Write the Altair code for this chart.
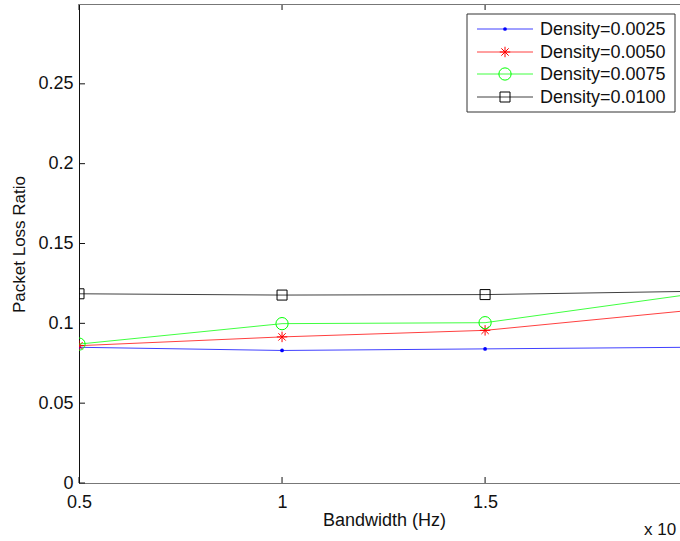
import altair as alt
import pandas as pd

# ---- data ----
bandwidth = [0.5, 1.0, 1.5, 2.0]
series_names = ["Density=0.0025", "Density=0.0050", "Density=0.0075", "Density=0.0100"]
d0025 = [0.085, 0.083, 0.084, 0.085]
d0050 = [0.086, 0.0915, 0.0956, 0.108]
d0075 = [0.087, 0.0998, 0.1004, 0.118]
d0100 = [0.1185, 0.1177, 0.118, 0.120]
values = [d0025, d0050, d0075, d0100]

x_ticks = [0.5, 1.0, 1.5]
y_ticks = [0, 0.05, 0.1, 0.15, 0.2, 0.25]

# ---- styles ----
colors = ["#0000ff", "#ff0000", "#00ff00", "#000000"]
ASTERISK = "M-1,0L1,0M0,-1L0,1M-0.7,-0.7L0.7,0.7M-0.7,0.7L0.7,-0.7"
shapes = ["circle", ASTERISK, "circle", "square"]
sizes = [14, 110, 150, 100]
filled = [True, False, False, False]
FONT = "Liberation Sans"

W, H = 601, 479

rows = []
for name, vals in zip(series_names, values):
    for b, v in zip(bandwidth, vals):
        rows.append({"series": name, "bw": b, "plr": v})
df = pd.DataFrame(rows)

xscale = alt.Scale(domain=[0.5, 1.98], nice=False, zero=False)
yscale = alt.Scale(domain=[0, 0.3], nice=False)

layers = []
base = alt.Chart(df).mark_line(clip=True, strokeWidth=1, opacity=0).encode(
    x=alt.X("bw:Q", scale=xscale,
            axis=alt.Axis(values=x_ticks, format="~g", title="Bandwidth (Hz)",
                          grid=False, tickSize=0, labelPadding=10,
                          domainColor="#777777", labelFontSize=18, labelFont=FONT,
                          labelColor="#111111", titleFont=FONT, titleFontSize=18,
                          titleFontWeight="normal", titleColor="#111111",
                          titleX=305, titleY=28, labelFlush=False)),
    y=alt.Y("plr:Q", scale=yscale,
            axis=alt.Axis(values=y_ticks, format="~g", title="Packet Loss Ratio",
                          grid=False, tickSize=0, labelPadding=6,
                          domainColor="#111111", labelFontSize=18, labelFont=FONT,
                          labelColor="#111111", titleFont=FONT, titleFontSize=17,
                          titleFontWeight="normal", titleColor="#111111",
                          titleX=-60, titleY=240, titleBaseline="middle",
                          titleAlign="center")),
    detail="series:N",
)
layers.append(base)

for i, name in enumerate(series_names):
    sub = df[df["series"] == name]
    layers.append(
        alt.Chart(sub).mark_line(clip=True, strokeWidth=1, color=colors[i], opacity=0.75)
        .encode(x=alt.X("bw:Q", scale=xscale), y=alt.Y("plr:Q", scale=yscale))
    )
    layers.append(
        alt.Chart(sub).mark_point(clip=True, shape=shapes[i], size=sizes[i],
                                  color=colors[i], filled=filled[i], strokeWidth=1,
                                  opacity=1)
        .encode(x=alt.X("bw:Q", scale=xscale), y=alt.Y("plr:Q", scale=yscale))
    )

# inward ticks
ytick_df = pd.DataFrame({"v": y_ticks})
xtick_df = pd.DataFrame({"v": x_ticks})
layers.append(alt.Chart(ytick_df).mark_rule(color="#111111", strokeWidth=1).encode(
    y=alt.Y("v:Q", scale=yscale), x=alt.value(0), x2=alt.value(6)))
layers.append(alt.Chart(xtick_df).mark_rule(color="#111111", strokeWidth=1).encode(
    x=alt.X("v:Q", scale=xscale), y=alt.value(H), y2=alt.value(H - 6)))
layers.append(alt.Chart(xtick_df).mark_rule(color="#111111", strokeWidth=1).encode(
    x=alt.X("v:Q", scale=xscale), y=alt.value(0), y2=alt.value(6)))
# top frame line
layers.append(alt.Chart(pd.DataFrame({"a": [0]})).mark_rule(color="#777777", strokeWidth=1).encode(
    x=alt.value(0), x2=alt.value(W), y=alt.value(0.5)))

# manual legend
LX0, LX1, LY0, LY1 = 388, 596, 10, 108
one = pd.DataFrame({"a": [0]})
layers.append(alt.Chart(one).mark_rect(fill="white", stroke="#333333", strokeWidth=1).encode(
    x=alt.value(LX0), x2=alt.value(LX1), y=alt.value(LY0), y2=alt.value(LY1)))
entry_y = [25, 48, 70, 93]
for i, name in enumerate(series_names):
    ey = entry_y[i]
    layers.append(alt.Chart(one).mark_rule(color=colors[i], strokeWidth=1, opacity=0.75).encode(
        x=alt.value(398), x2=alt.value(454), y=alt.value(ey)))
    layers.append(alt.Chart(one).mark_point(shape=shapes[i], size=sizes[i], color=colors[i],
                                            filled=filled[i], strokeWidth=1, opacity=1).encode(
        x=alt.value(426), y=alt.value(ey)))
    layers.append(alt.Chart(pd.DataFrame({"label": [name]})).mark_text(
        align="left", baseline="middle", font=FONT, fontSize=18, color="#111111").encode(
        x=alt.value(461), y=alt.value(ey + 1), text="label:N"))

# exponent label (cropped)
layers.append(alt.Chart(pd.DataFrame({"label": ["x 10"]})).mark_text(
    align="left", baseline="middle", font=FONT, fontSize=17, color="#111111").encode(
    x=alt.value(565), y=alt.value(H + 47), text="label:N"))

chart = alt.layer(*layers).properties(
    width=W, height=H,
    autosize=alt.AutoSizeParams(type="none"),
    padding={"left": 79, "top": 4, "right": 0, "bottom": 58},
).configure_view(stroke=None).configure(background="white")

chart.save("out.html", embed_options={"renderer": "svg", "actions": False})
